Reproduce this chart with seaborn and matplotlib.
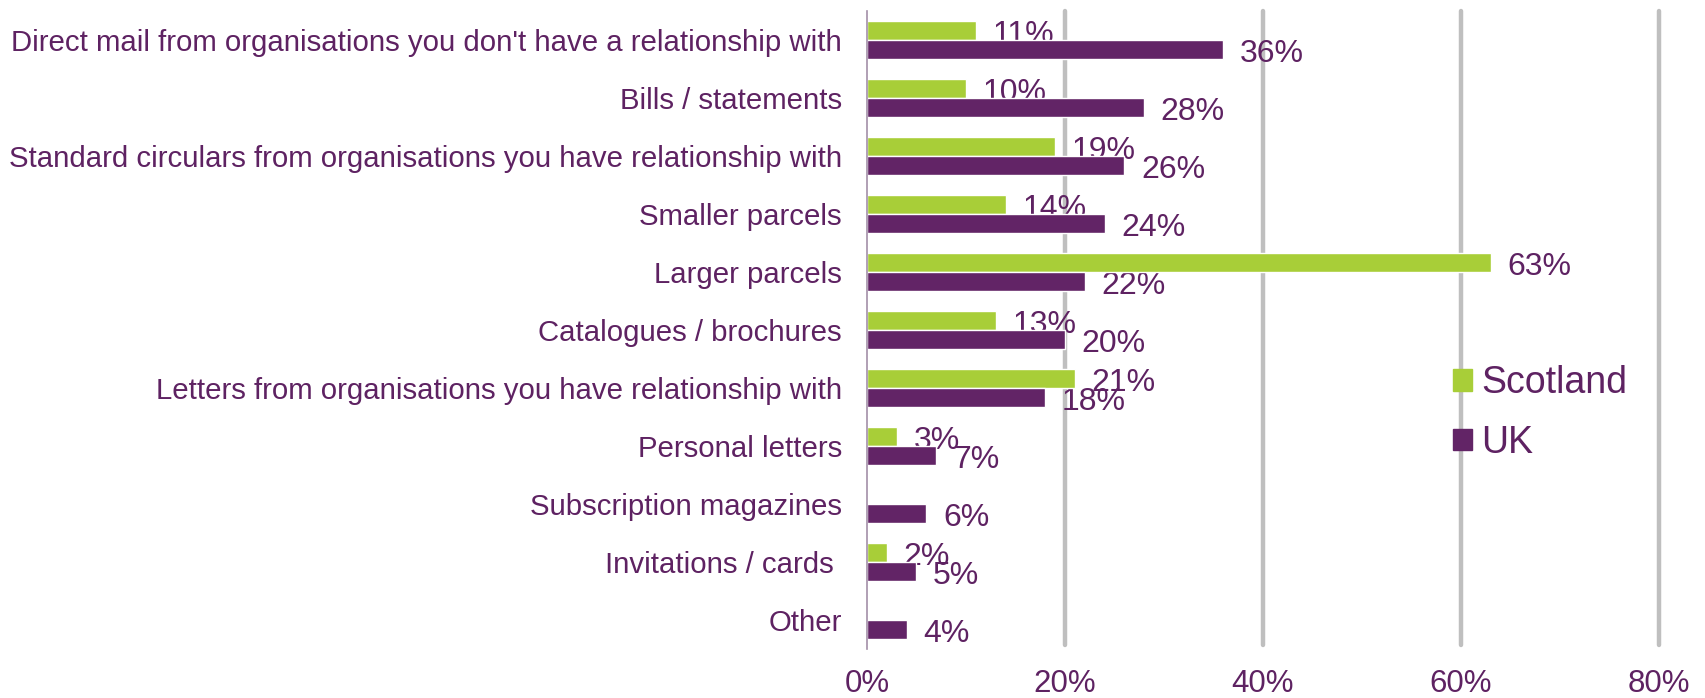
import numpy as np
import pandas as pd
import matplotlib
matplotlib.use("Agg")
import matplotlib.pyplot as plt
import seaborn as sns

# Mail types and share of each region's respondents (%)
categories = [
    "Direct mail from organisations you don't have a relationship with",
    "Bills / statements",
    "Standard circulars from organisations you have relationship with",
    "Smaller parcels",
    "Larger parcels",
    "Catalogues / brochures",
    "Letters from organisations you have relationship with",
    "Personal letters",
    "Subscription magazines",
    "Invitations / cards ",
    "Other",
]
scotland = [11, 10, 19, 14, 63, 13, 21, 3, np.nan, 2, np.nan]
uk = [36, 28, 26, 24, 22, 20, 18, 7, 6, 5, 4]
regions = ["Scotland", "UK"]
x_ticks = [0, 20, 40, 60, 80]

GREEN = "#A8CE38"
PURPLE = "#622466"
TEXT = "#5E2262"
GRID = "#BFBFBF"
SPINE = "#A38FA8"

df = pd.DataFrame({
    "category": categories * 2,
    "value": scotland + uk,
    "region": [regions[0]] * len(categories) + [regions[1]] * len(categories),
})

sns.set_theme(style="white")
plt.rcParams["font.family"] = ["Liberation Sans", "DejaVu Sans"]

fig = plt.figure(figsize=(17.06, 6.98), dpi=100)
ax = fig.add_axes([867 / 1706, 1 - 649 / 698, (1659 - 867) / 1706, (649 - 11) / 698])

sns.barplot(
    data=df, y="category", x="value", hue="region", order=categories,
    hue_order=regions, palette=[GREEN, PURPLE], orient="h", width=0.66,
    saturation=1, ax=ax, zorder=2, legend=False,
)

# value labels just right of each bar end, sitting behind the bars
for container in ax.containers:
    for bar, v in zip(container, container.datavalues):
        if np.isnan(v):
            continue
        ax.annotate(
            f"{v:.0f}%", xy=(bar.get_x() + bar.get_width(), bar.get_y() + bar.get_height() / 2),
            xytext=(12, -3), textcoords="offset points", ha="left", va="center",
            fontsize=23, color=TEXT, zorder=1,
        )

ax.set_xlim(0, 80)
ax.set_ylim(len(categories) - 0.5, -0.5)
for t in x_ticks[1:]:
    ax.axvline(t, ymin=4 / 638, ymax=1, color=GRID, lw=3.2, zorder=0, clip_on=False)

ax.set_xticks(x_ticks)
ax.set_xticklabels([f"{t}%" for t in x_ticks])
ax.tick_params(axis="x", length=0, pad=14.5, labelsize=22.5, labelcolor=TEXT)
ax.tick_params(axis="y", which="major", length=0, pad=18, labelsize=21.2, labelcolor=TEXT)
ax.set_yticks(np.arange(-0.5, len(categories)), minor=True)
ax.tick_params(axis="y", which="minor", length=7, width=1.2, color=SPINE, direction="out")
ax.set_xlabel("")
ax.set_ylabel("")

for side in ["top", "right", "bottom"]:
    ax.spines[side].set_visible(False)
ax.spines["left"].set_color(SPINE)
ax.spines["left"].set_linewidth(1.2)

handles = [plt.Rectangle((0, 0), 1, 1, color=c) for c in (GREEN, PURPLE)]
leg = fig.legend(
    handles, regions, loc="center left", bbox_to_anchor=(1453 / 1706, 1 - 413 / 698),
    frameon=False, fontsize=27, handlelength=0.5, handleheight=0.5,
    handletextpad=0.25, labelspacing=0.62, borderpad=0, borderaxespad=0,
)
for txt in leg.get_texts():
    txt.set_color(TEXT)

fig.savefig("out.png", dpi=100)
